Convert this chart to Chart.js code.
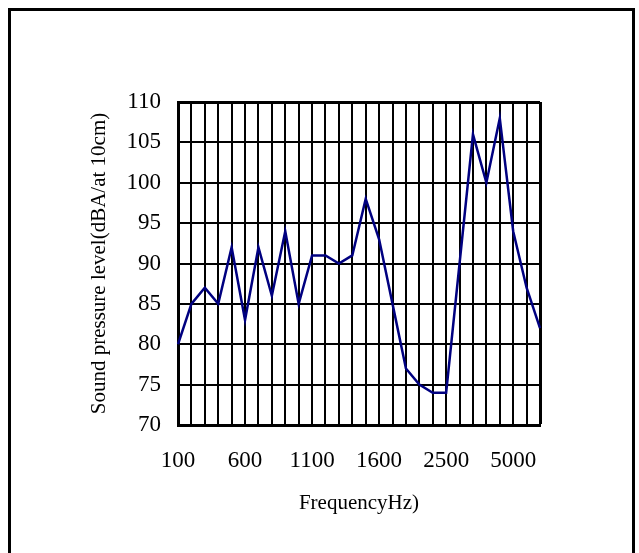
<!DOCTYPE html>
<html lang="en">
<head>
  <meta charset="UTF-8">
  <title>Sound pressure level</title>
  <script src="https://cdn.jsdelivr.net/npm/chart.js"></script>
  <style>
    html, body { margin: 0; padding: 0; background: #fff; overflow: hidden; }
    .frame {
      position: absolute; left: 8px; top: 8px;
      width: 621px; height: 600px;
      border: 3px solid #000;
    }
    .wrap { position: absolute; left: 0; top: 0; width: 639px; height: 553px; }
  </style>
</head>
<body>
  <div class="frame"></div>
  <div class="wrap"><canvas id="grafico" width="639" height="553"></canvas></div>

  <script>
    // frequency bands (only every 5th one is labelled)
    const frequencias = [
      '100', '200', '300', '400', '500', '600', '700', '800', '900', '1000',
      '1100', '1200', '1300', '1400', '1500', '1600', '1700', '1800', '2000', '2250',
      '2500', '3000', '3500', '4000', '4500', '5000', '6300', '8000'
    ];
    const nivelSonoro = [
      80, 85, 87, 85, 92, 83, 92, 86, 94, 85,
      91, 91, 90, 91, 98, 93, 85, 77, 75, 74,
      74, 90, 106, 100, 108, 94, 87, 82
    ];
    const yMin = 70;
    const yMax = 110;
    const yStep = 5;

    const ultimo = frequencias.length - 1;

    const ctx = document.getElementById('grafico').getContext('2d');
    new Chart(ctx, {
      type: 'line',
      data: {
        labels: frequencias,
        datasets: [{
          data: nivelSonoro,
          borderColor: '#000080',
          borderWidth: 2.5,
          pointRadius: 0,
          tension: 0,
          fill: false
        }]
      },
      options: {
        responsive: false,
        animation: false,
        devicePixelRatio: 1,
        layout: { padding: { left: 0, top: 102, right: 99, bottom: 0 } },
        plugins: {
          legend: { display: false },
          tooltip: { enabled: false }
        },
        scales: {
          x: {
            offset: false,
            afterFit: s => { s.height = 128; },
            grid: {
              color: '#000',
              lineWidth: c => (c.index === ultimo ? 3 : 2),
              drawTicks: false
            },
            border: { color: '#000', width: 3 },
            ticks: {
              autoSkip: false,
              maxRotation: 0,
              padding: 22,
              color: '#000',
              font: { family: 'Liberation Serif', size: 23 },
              callback: (v, i) => (i % 5 === 0 ? frequencias[i] : '')
            },
            title: {
              display: true,
              text: 'FrequencyHz)',
              color: '#000',
              font: { family: 'Liberation Serif', size: 21 },
              padding: { top: 0, bottom: 37 }
            }
          },
          y: {
            min: yMin,
            max: yMax,
            afterFit: s => { s.width = 178; },
            grid: {
              color: '#000',
              lineWidth: c => (c.tick && c.tick.value === yMax ? 3 : 2),
              drawTicks: false
            },
            border: { color: '#000', width: 3 },
            ticks: {
              stepSize: yStep,
              padding: 17,
              color: '#000',
              font: { family: 'Liberation Serif', size: 23 }
            },
            title: {
              display: true,
              text: 'Sound pressure level(dBA/at 10cm)',
              color: '#000',
              font: { family: 'Liberation Serif', size: 21 },
              padding: { top: 87, bottom: 0 }
            }
          }
        }
      }
    });
  </script>
</body>
</html>
